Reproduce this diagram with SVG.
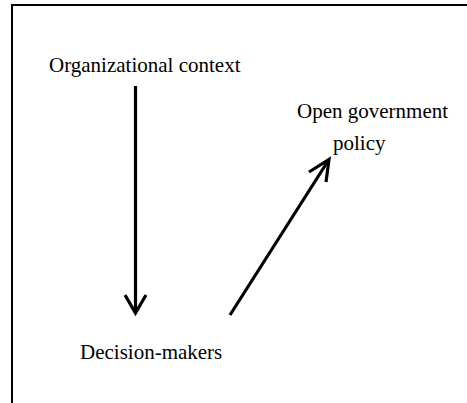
<svg xmlns="http://www.w3.org/2000/svg" width="467" height="403" viewBox="0 0 467 403">
<style>
text{font-family:"Liberation Serif","Times New Roman",serif;font-size:21px;fill:#000}
.ln{fill:none;stroke:#000;stroke-width:3.2;stroke-linecap:butt;stroke-linejoin:miter}
.fr{fill:none;stroke:#000;stroke-width:2}
</style>
<rect width="467" height="403" fill="#fff"/>
<path class="fr" d="M12,403 V5 H467"/>
<g id="organizational-context"><text x="49" y="72">Organizational context</text></g>
<g id="open-government-policy"><text x="297" y="118">Open government</text><text x="333" y="150">policy</text></g>
<g id="decision-makers"><text x="80" y="359">Decision-makers</text></g>
<g id="connectors">
<path class="ln" d="M135.5,86 V313"/>
<path class="ln" d="M125,295 L135.5,313 L146,295"/>
<path class="ln" d="M230,315 L328,161"/>
<path class="ln" d="M309,172 L329,159.5 L326,182"/>
</g>
</svg>
